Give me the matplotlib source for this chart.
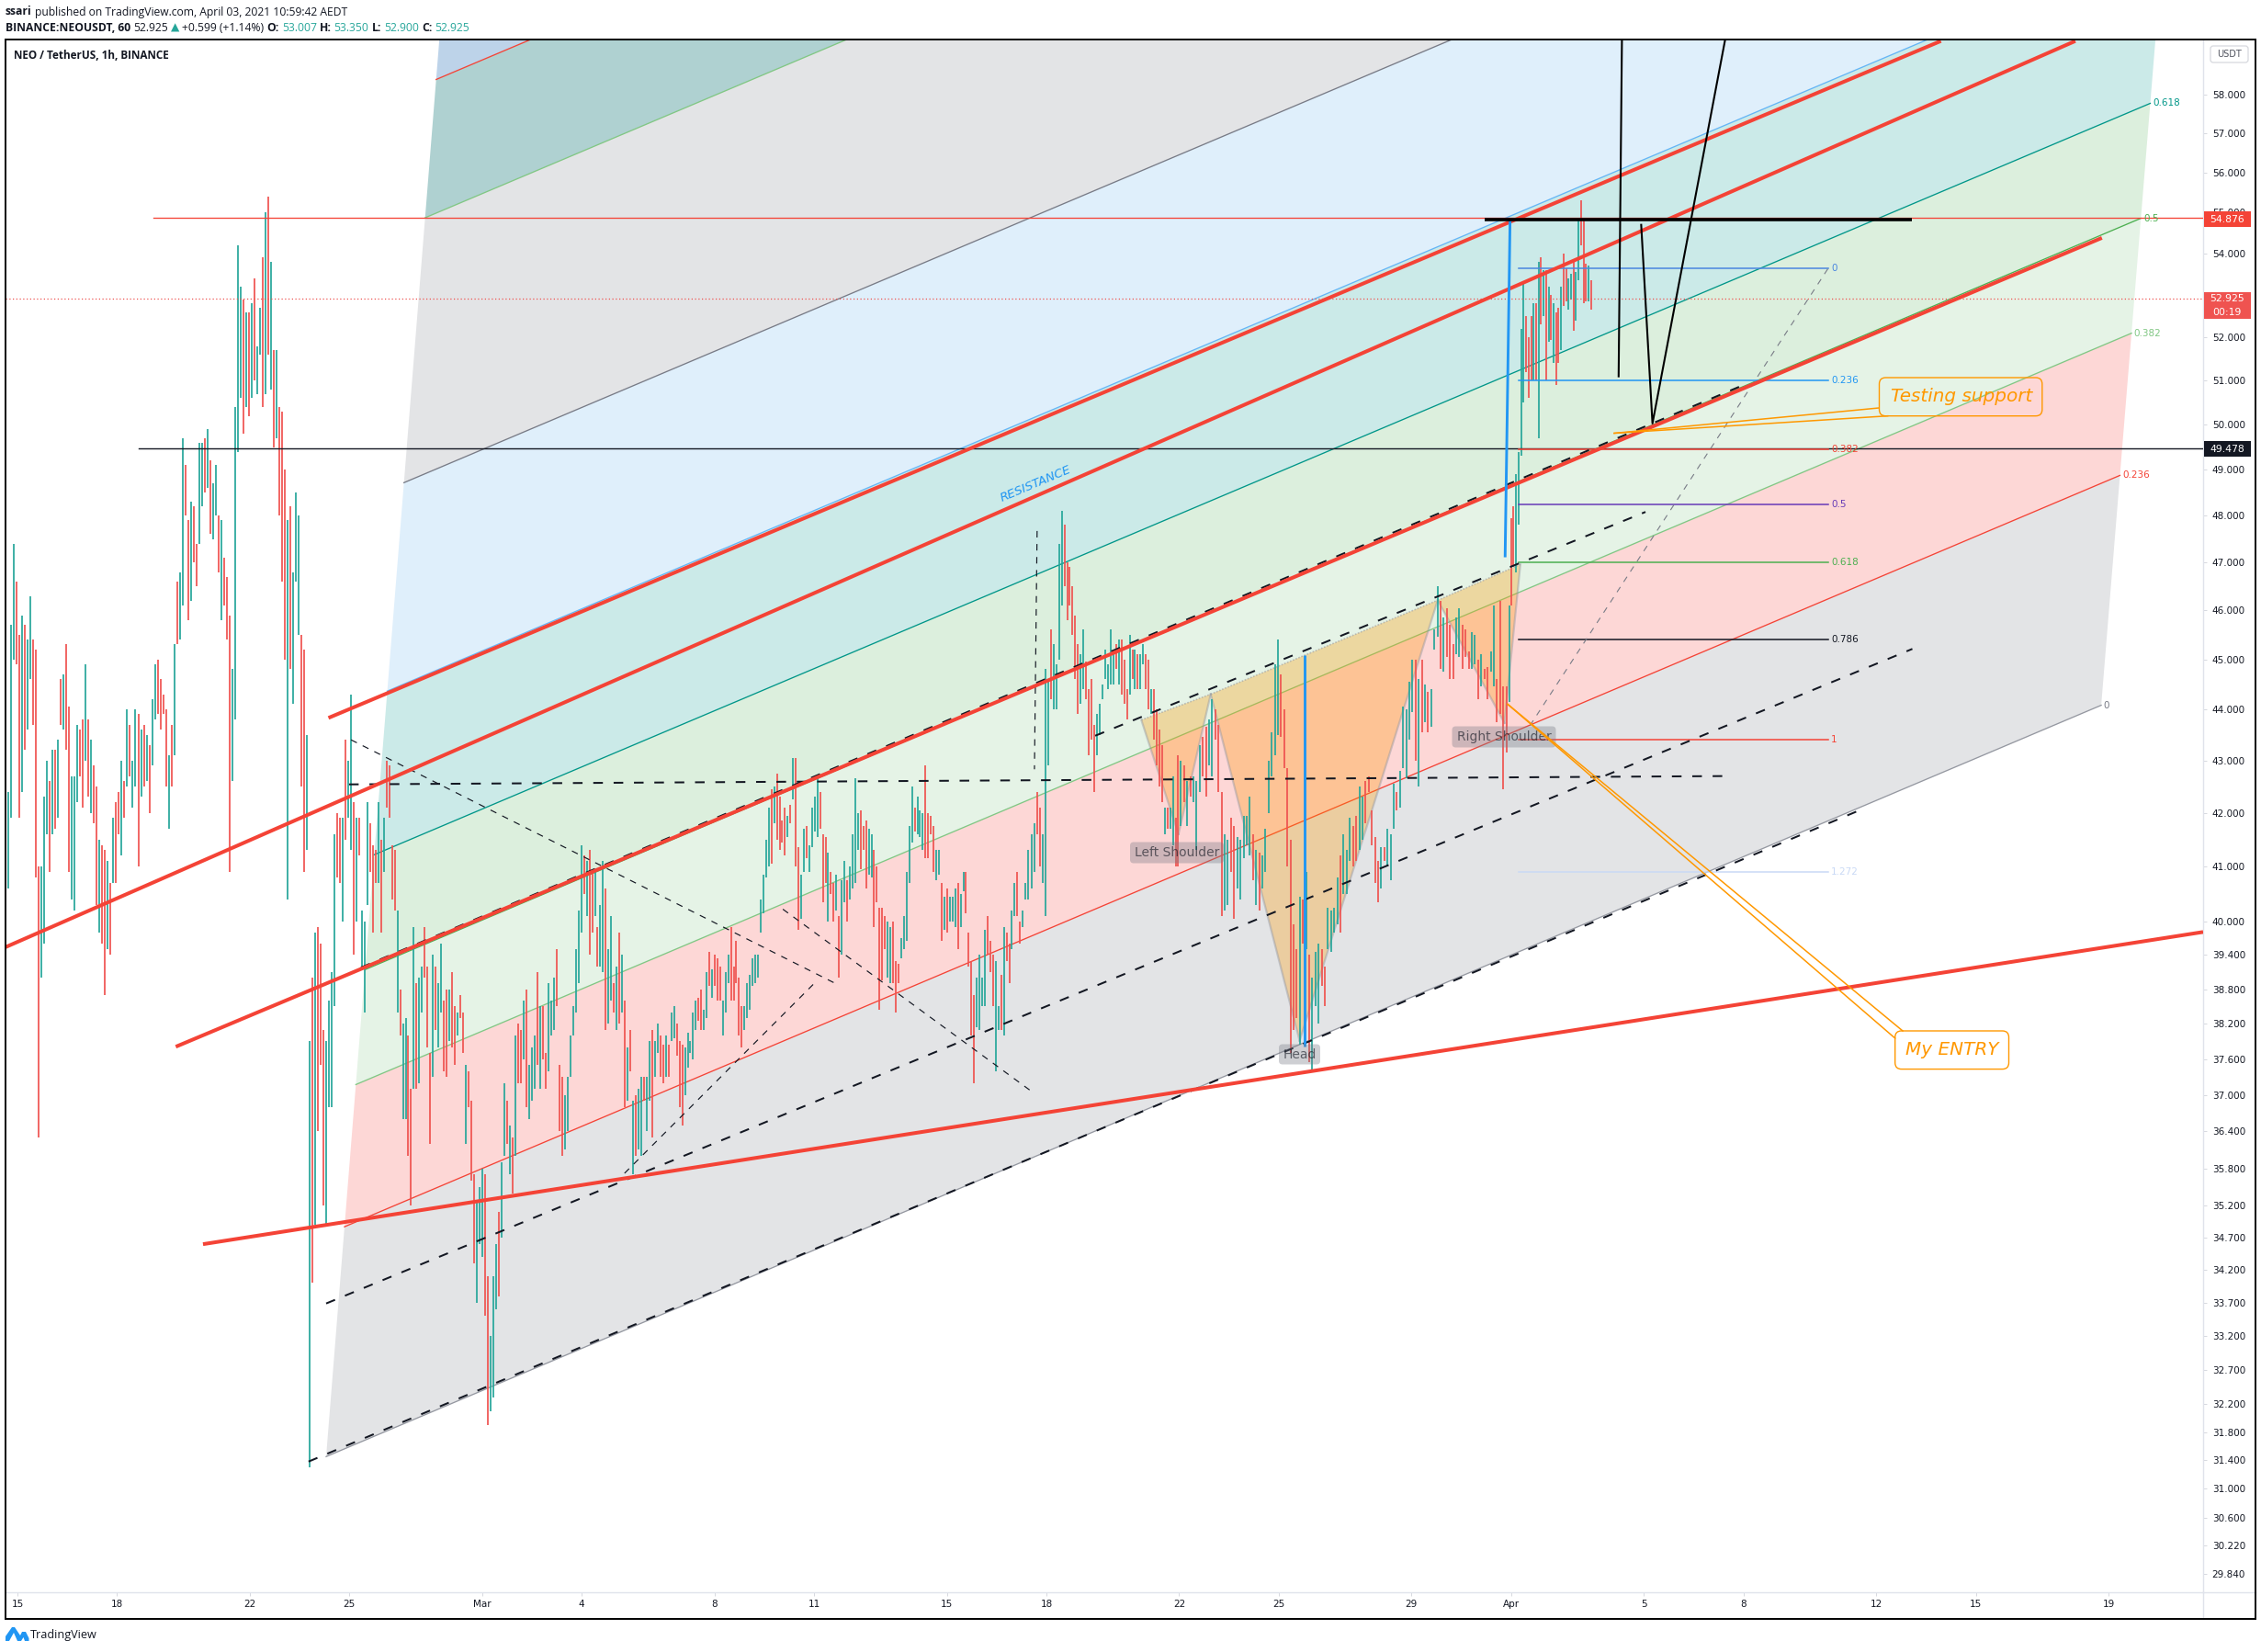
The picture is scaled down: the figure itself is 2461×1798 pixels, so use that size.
import numpy as np
import matplotlib
matplotlib.use("Agg")
import matplotlib.pyplot as plt
from matplotlib.patches import FancyBboxPatch, Polygon, Rectangle
from matplotlib.lines import Line2D
from matplotlib.transforms import Affine2D
from matplotlib.ticker import NullLocator

# ---------- candles: (high, low, 1=up / 0=down); x unit = days after 15 Feb
span1 = (-0.36, 8.64)
bars1 = [(42.2,40.8,0),(42.4,40.6,1),(45.7,41.9,1),(47.4,45.0,1),(46.6,44.9,0),(45.5,41.9,0),(45.9,42.4,1),(45.7,43.2,0),(45.4,43.6,1),(46.3,44.6,1),(45.4,43.7,0),(45.2,40.8,0),(41.0,36.3,0),(41.0,39.0,1),(42.3,39.6,1),(43.0,41.6,1),(42.6,40.9,0),(43.2,41.6,1),(43.2,41.7,0),(43.4,41.9,1),(44.6,43.7,0),(44.7,43.6,1),(45.3,43.2,0),(44.05,40.9,0),(42.7,40.4,1),(42.7,40.2,1),(43.7,42.2,1),(43.6,42.7,0),(43.8,42.1,0),(44.9,43.0,1),(43.8,42.3,0),(43.4,42.0,1),(42.9,41.8,0),(42.5,40.3,0),(41.5,39.8,1),(41.4,39.6,0),(41.3,38.7,0),(41.1,39.5,1),(40.7,39.4,0),(41.9,40.7,1),(42.2,40.7,0),(42.4,41.6,0),(43.0,41.2,1),(42.6,41.9,0),(44.0,42.5,1),(43.7,42.7,0),(43.0,42.1,1),(44.0,42.5,1),(43.9,41.0,0),(43.6,42.3,1),(43.7,42.5,0),(43.5,42.6,1),(43.3,42.0,0),(44.2,42.9,1),(44.9,43.8,1),(45.0,43.9,0),(44.6,43.6,0),(44.3,43.9,0),(44.0,42.5,0),(43.1,41.7,1),(43.7,42.5,0),(45.3,43.1,1),(46.6,45.3,0),(46.8,45.4,1),(49.7,46.1,1),(49.1,48.0,0),(47.9,45.8,0),(48.3,46.2,1),(48.2,47.0,0),(47.4,46.5,0),(49.6,47.4,1),(49.6,48.2,1),(49.7,48.5,0),(49.9,48.6,1),(49.2,47.6,0),(48.7,47.5,1),(49.1,48.0,1),(48.0,46.8,0),(47.9,45.8,1),(47.1,46.1,0),(46.7,45.4,0),(45.9,40.9,0),(44.8,42.6,1),(50.4,43.8,1),(54.2,49.4,1),(53.2,50.6,1),(52.9,49.8,0),(52.6,50.4,1),(52.6,50.2,0),(52.8,50.6,1),(53.4,51.0,0),(51.8,50.7,1),(52.7,51.6,1),(53.9,50.4,0),(55.0,50.7,1),(55.4,51.6,0),(53.8,50.8,1),(51.7,49.5,0),(51.7,49.7,1),(50.4,48.0,0),(50.3,46.6,0),(49.0,45.0,0),(47.9,40.4,1),(48.2,44.8,0),(46.8,44.1,1),(48.5,46.6,1),(48.0,45.5,1),(45.5,42.5,0),(45.2,40.9,0)]

span2 = (8.72, 19.38)
bars2 = [(43.5,41.3,1),(37.9,31.3,1),(39.0,34.0,0),(39.8,34.9,1),(39.9,36.4,0),(39.6,37.5,0),(38.1,35.2,0),(37.9,34.9,1),(38.6,36.8,1),(39.1,36.8,1),(41.6,38.5,1),(42.0,40.8,0),(41.9,40.7,0),(41.9,40.0,1),(43.4,41.5,0),(43.0,41.9,1),(44.3,41.3,1),(42.2,39.4,0),(41.9,40.0,1),(41.9,41.2,0),(40.2,39.2,1),(40.0,38.4,1),(42.2,40.3,1),(41.8,40.9,0),(41.4,39.8,0),(41.3,40.7,0),(42.2,40.7,1),(41.5,39.8,0),(41.9,40.9,1),(43.0,42.1,0),(42.9,41.9,0),(41.4,40.4,0),(41.3,40.2,0),(40.2,38.4,1),(38.8,38.0,0),(38.2,36.6,1),(38.3,36.6,1),(38.0,36.0,0),(37.1,35.2,0),(39.9,37.1,1),(38.9,37.1,0),(39.0,37.2,1),(39.2,38.4,1),(39.9,39.0,0),(39.2,37.8,0),(37.7,36.2,0),(39.4,37.3,1),(39.2,38.1,0),(38.9,37.8,1),(39.6,38.4,1),(38.6,37.4,0),(38.8,37.3,0),(38.8,37.9,1),(39.1,37.8,0),(38.5,37.5,0),(38.4,38.0,1),(38.7,38.3,0),(38.4,37.7,0),(37.5,36.2,1),(37.4,36.8,0),(36.9,35.6,0),(35.7,34.3,0),(35.3,33.7,1),(35.5,34.6,1),(35.8,34.4,1),(35.7,33.5,0),(34.1,31.9,0),(33.2,32.1,1),(34.1,32.3,1),(34.6,33.6,1),(35.1,33.8,0),(35.9,34.7,1),(37.2,36.0,1),(36.9,36.2,0),(36.5,35.7,1),(36.3,35.4,0),(38.0,36.0,1),(38.2,37.2,0),(38.1,37.2,0),(38.6,37.6,1),(38.8,36.8,0),(37.5,36.6,1),(37.8,36.9,1),(38.0,37.1,1),(39.1,37.5,0),(38.5,37.1,1),(38.5,37.6,0),(37.7,37.1,0),(38.9,37.4,1),(38.6,38.0,1),(39.0,38.1,1),(39.5,38.5,0),(37.5,36.4,0),(37.3,36.0,0),(37.0,36.1,1),(37.3,36.4,1),(38.0,37.3,1),(38.5,38.0,1),(39.5,38.4,1),(40.2,38.9,1),(41.4,39.8,1),(41.2,40.5,0),(41.1,40.1,1),(41.3,39.4,0),(40.9,39.8,0),(40.9,40.1,1),(39.9,39.2,0),(40.3,39.2,1),(41.1,39.1,1),(40.6,38.1,0),(39.5,38.2,1),(40.1,38.6,1),(38.9,38.4,0),(39.2,38.1,1),(39.8,38.2,0),(39.4,38.4,1),(38.6,36.8,0),(37.8,36.9,1),(38.1,37.4,0),(36.9,35.7,1),(37.0,36.0,0),(37.1,36.1,1),(37.3,36.0,1),(37.3,36.9,0),(37.3,36.4,1),(37.9,36.9,1),(38.1,36.3,0),(37.9,37.3,1),(38.2,37.7,1),(38.0,37.3,0)]

span3 = (19.46, 30.45)
bars3 = [(37.85,37.2,0),(38.0,37.3,1),(37.85,37.3,0),(38.4,37.9,1),(38.5,37.95,1),(38.2,37.65,0),(37.9,36.8,0),(37.85,36.5,0),(37.8,37.0,1),(38.05,37.45,1),(37.9,37.7,1),(38.4,37.6,1),(38.6,38.1,1),(38.65,38.25,0),(38.8,38.1,0),(38.45,38.1,1),(39.1,38.3,1),(39.45,38.85,0),(39.15,38.65,1),(39.4,38.85,0),(39.35,38.6,0),(39.2,38.6,0),(38.6,38.0,1),(39.1,38.4,1),(39.4,38.9,1),(39.9,38.6,0),(39.2,38.6,0),(39.65,38.9,0),(39.0,38.0,0),(38.5,37.8,0),(38.5,38.1,1),(38.9,38.3,1),(39.05,38.45,1),(39.35,38.85,1),(39.4,38.9,1),(39.4,39.0,1),(40.4,39.8,1),(40.85,40.15,1),(41.5,40.8,1),(42.1,41.0,1),(42.45,41.05,0),(42.5,41.8,1),(42.75,41.5,0),(42.3,41.3,0),(41.85,41.45,0),(42.1,41.2,0),(41.95,41.55,1),(42.15,41.8,0),(43.05,42.25,1),(43.05,41.0,0),(41.35,39.85,0),(40.85,40.05,1),(41.7,40.9,1),(41.75,41.15,0),(41.4,40.9,1),(42.1,41.35,1),(42.3,41.65,1),(42.7,41.55,1),(42.4,41.7,0),(41.6,40.35,0),(41.55,40.7,0),(41.25,40.0,1),(40.9,40.5,0),(40.7,40.0,0),(40.85,40.2,1),(40.1,39.0,0),(40.75,39.4,1),(41.1,40.35,1),(40.75,40.0,0),(41.0,40.4,1),(41.6,40.6,1),(42.65,40.7,1),(42.0,41.3,1),(42.05,40.95,0),(41.75,41.3,0),(41.85,40.6,0),(41.7,40.85,1),(41.6,40.8,1),(41.3,39.9,0),(41.0,40.35,0),(40.25,38.45,0),(40.25,38.95,0),(40.1,39.5,0),(40.0,39.0,1),(39.9,38.9,1),(40.0,38.9,0),(39.3,38.4,0),(39.25,38.9,0),(39.7,39.35,1),(40.1,39.5,1),(40.9,39.65,1),(41.75,40.7,1),(42.5,41.45,1),(42.1,41.65,0),(42.3,41.6,1),(42.05,41.55,1),(42.0,41.3,1),(42.9,41.15,0),(42.0,41.15,0),(41.95,41.6,0),(41.75,40.9,0),(41.3,40.75,1),(41.3,40.85,1),(40.7,39.65,0),(40.45,39.85,1),(40.6,39.8,0),(40.45,40.0,1),(40.45,40.0,1),(40.6,39.9,1),(40.7,39.5,0),(40.5,39.9,1),(40.9,40.55,1),(40.9,40.15,0),(39.8,39.2,0),(39.3,38.0,0),(38.7,37.2,0),(39.0,38.15,1),(39.4,38.1,1),(39.0,38.5,1),(39.85,38.5,1),(40.1,39.4,0),(39.65,39.1,0),(39.4,38.5,0),(39.3,37.4,1),(38.5,38.1,1),(39.05,38.1,0),(39.9,38.0,1),(39.8,39.3,0),(39.6,38.9,0),(40.2,39.5,1),(40.7,40.1,1),(40.9,40.1,0),(40.0,39.6,0),(40.2,39.9,1),(40.7,40.4,1),(41.3,40.4,1)]

span4 = (30.56, 34.90)
bars4 = [(41.6,40.6,1),(41.8,40.9,1),(42.4,41.6,0),(42.1,41.0,0),(41.6,40.7,1),(44.8,40.1,1),(44.6,42.9,1),(45.6,44.2,0),(45.3,44.0,1),(44.9,44.0,1),(47.4,45.0,1),(48.1,46.1,1),(47.8,46.5,0),(47.0,45.8,0),(46.9,46.1,0),(46.5,45.5,0),(45.9,44.6,0),(45.3,43.9,0),(45.1,44.1,1),(45.6,44.4,1),(44.95,44.2,0),(44.4,43.1,0),(44.6,43.4,0),(43.7,42.4,0),(43.9,43.1,1),(44.1,43.5,1),(44.5,44.2,1),(45.2,44.6,1),(44.9,44.4,1),(45.6,44.5,1),(45.1,44.5,1),(45.3,44.8,0),(45.4,44.5,1),(45.4,44.3,0),(45.0,44.1,0),(44.4,43.8,0),(45.5,44.3,1),(45.2,44.6,0),(45.2,44.4,1),(45.1,44.4,0),(45.1,44.4,1),(45.3,44.9,1),(45.1,44.4,0),(45.0,44.0,0),(44.4,43.9,1),(44.4,43.4,0),(44.0,42.9,0),(43.6,42.5,0),(43.3,42.2,0),(42.1,41.6,1),(42.1,41.7,0),(42.1,41.7,1),(42.7,41.4,1),(41.9,41.0,0)]

span5 = (34.96, 44.95)
bars5 = [(43.1,41.0,0),(43.0,41.75,1),(42.9,42.2,0),(42.6,41.75,1),(42.7,42.3,0),(42.7,42.2,1),(42.6,41.3,1),(43.3,42.4,1),(43.45,42.7,0),(43.65,42.3,0),(43.8,42.9,1),(44.2,42.7,1),(44.0,43.4,0),(43.7,42.4,0),(42.4,40.1,0),(41.6,40.2,1),(41.5,40.3,1),(41.9,40.9,0),(41.75,40.05,0),(41.55,40.6,1),(41.5,40.4,1),(41.95,41.15,1),(41.95,41.4,1),(42.3,41.2,1),(41.6,40.75,0),(41.3,40.3,1),(41.25,40.2,0),(41.2,40.6,1),(41.7,40.9,1),(43.0,42.0,1),(43.55,42.7,1),(44.9,43.1,1),(45.4,43.5,1),(44.7,43.45,0),(44.0,42.85,0),(42.85,41.0,0),(41.5,37.7,0),(39.95,38.1,0),(39.5,38.3,0),(40.45,37.85,1),(40.4,39.6,0),(40.9,39.5,1),(39.4,37.55,0),(39.0,37.4,1),(39.45,38.5,1),(39.6,38.2,1),(39.5,38.85,0),(39.2,38.5,0),(40.25,39.5,1),(40.2,39.45,1),(40.25,39.8,1),(40.8,39.95,1),(41.2,39.8,0),(41.6,40.5,1),(41.3,40.5,1),(41.9,41.1,1),(41.75,41.0,0),(41.95,41.1,0),(42.5,41.3,1),(42.3,41.5,1),(42.6,41.8,0),(42.7,42.4,0),(42.05,41.4,0),(41.55,40.7,0),(41.1,40.35,0),(41.35,40.6,1),(41.35,41.1,0),(41.7,41.0,1),(41.6,40.75,1),(42.55,41.7,1),(42.4,42.05,0),(42.8,42.1,1),(44.05,42.85,1),(44.0,42.65,1),(44.55,43.4,1),(45.0,43.95,1),(45.0,43.0,0),(44.6,42.5,1),(45.0,43.55,0),(44.5,43.75,1),(44.35,43.55,0),(44.4,43.65,1),(45.6,45.2,1),(46.5,45.45,1),(46.2,44.8,0),(45.85,44.75,1),(46.05,45.05,0),(45.7,44.6,0),(45.3,44.6,0),(45.85,45.1,1),(46.05,45.05,1),(45.7,44.8,0),(45.6,45.05,0),(45.15,44.8,0),(45.55,44.8,1),(45.5,44.9,1),(45.0,44.2,0),(45.1,44.45,1),(44.8,44.6,0),(44.85,44.2,0),(45.15,44.75,1),(46.1,44.45,1),(44.6,43.75,0),(46.2,43.9,0),(44.45,42.45,0),(44.45,43.15,0),(46.1,44.15,1)]

span6 = (45.0, 47.41)
bars6 = [(47.95,46.1,0),(48.2,46.9,0),(48.9,46.8,1),(49.4,47.8,1),(52.2,49.3,1),(53.3,50.5,1),(52.5,51.2,0),(52.0,50.6,0),(52.5,51.0,0),(52.8,51.0,1),(52.8,51.0,0),(53.8,49.7,1),(53.9,52.3,0),(53.6,52.5,1),(53.6,51.0,0),(53.2,51.9,1),(53.0,51.95,0),(52.8,51.4,1),(52.6,50.9,0),(52.7,51.4,0),(53.2,51.7,1),(54.0,52.75,0),(53.65,52.85,0),(53.4,52.65,1),(53.5,52.9,1),(53.85,52.15,0),(53.55,52.4,1),(54.85,53.35,1),(55.3,54.2,0),(54.85,52.8,0),(53.75,52.85,0),(53.7,52.85,1),(53.35,52.65,0)]

# ---------- axes values
xtick_days = [0,3,7,10,14,17,21,24,28,31,35,38,42,45,49,52,56,59,63]
xtick_labels = ['15','18','22','25','Mar','4','8','11','15','18','22','25','29','Apr','5','8','12','15','19']
price_ticks = [58,57,56,55,54,52,51,50,49,48,47,46,45,44,43,42,41,40,39.4,38.8,38.2,37.6,37,36.4,35.8,35.2,34.7,34.2,33.7,33.2,32.7,32.2,31.8,31.4,31,30.6,30.22,29.84]
last_price = 52.925
high_price = 54.876
mark_price = 49.478
x_end = 65.85

# ---------- fib channel
channel_levels = [0,0.236,0.382,0.5,0.618,0.786,1,1.272,1.414,1.618]
channel_fills = ['#e3e4e6','#fdd7d6','#e5f3e6','#dcefdd','#cbeae8','#dfeffb','#e3e4e6','#afd1d1','#bdd3e9']
channel_lines = ['#9598a1','#f44336','#81c784','#4caf50','#009688','#64b5f6','#787b86','#81c784','#f44336']
channel_left = (9.30, 31.45)
channel_right = (62.78, 44.08)
channel_shift_left = 2.344
channel_shift_right = 2.39
channel_ratio = 1.549

# ---------- fib retracement
retr_levels = ['0','0.236','0.382','0.5','0.618','0.786','1','1.272']
retr_prices = [53.65,51.0,49.45,48.25,47.0,45.4,43.4,40.9]
retr_colors = ['#4a86e0','#2196f3','#f44336','#673ab7','#4caf50','#131722','#f44336','#c9d9f5']
retr_from, retr_to = 45.23, 54.56

# ---------- drawn lines as (day, price) anchors
red_lines = [((9.37,43.83),(57.95,59.41)),((-0.36,39.54),(62.0,59.41)),((4.77,37.81),(62.8,54.38)),((5.59,34.60),(65.85,39.81))]
dash_lines = [((9.99,42.54),(51.64,42.70)),((10.35,39.18),(52.09,50.93)),((32.47,43.48),(49.05,48.08)),((9.30,33.69),(57.09,45.21)),((8.77,31.38),(55.62,42.08))]
thin_dash = [((10.05,43.40),(24.61,38.91)),((18.29,35.72),(24.02,38.91)),((23.06,40.22),(30.50,37.08)),((30.72,47.67),(30.64,42.83))]
grey_dash = ((45.57,43.68),(54.56,53.65))
blue_lines = [((44.97,54.85),(44.82,47.11)),((38.78,45.09),(38.78,37.81))]
black_lines = [[(48.34,59.45),(48.24,51.10)],[(48.92,54.70),(49.26,50.03),(51.45,59.45)]]
black_bar = ((44.2,54.82),(57.07,54.82))
hs_day = [33.86,34.98,35.95,38.63,42.79,44.80,45.28]
hs_price = [43.79,41.60,44.30,37.91,46.21,43.73,46.96]

W, H = 2461, 1798
UP, DOWN = '#26a69a', '#ef5350'
RED = '#f44336'
INK = '#131722'
plt.rcParams['font.family'] = ['DejaVu Sans']
fig = plt.figure(figsize=(W/100, H/100), dpi=100, facecolor='white')
L, T, R, B = 6, 43, 2398, 1733
FR, FB = 2455, 1762
ax = fig.add_axes([L/W, 1-B/H, (R-L)/W, (B-T)/H])
px = Affine2D().scale(1, -1).translate(0, H)

ax.set_yscale('log')
ax.set_xlim(-0.36, x_end)
ax.set_ylim(29.59, 59.45)

# channel
def ch_left(l): return channel_left[0]+l*channel_shift_left, channel_left[1]*channel_ratio**l
def ch_right(l): return channel_right[0]+l*channel_shift_right, channel_right[1]*channel_ratio**l
for i in range(len(channel_levels)-1):
    a, b = channel_levels[i], channel_levels[i+1]
    ax.add_patch(Polygon([ch_left(a), ch_right(a), ch_right(b), ch_left(b)], closed=True,
                         fc=channel_fills[i], ec='none', zorder=1))
    ax.plot(*zip(ch_left(a), ch_right(a)), color=channel_lines[i], lw=0.95, zorder=1.5)
for lab, col in [(0,'#787b86'),(0.236,RED),(0.382,'#81c784'),(0.5,'#4caf50'),(0.618,'#009688')]:
    ax.annotate(str(lab), ch_right(lab), xytext=(2,0), textcoords='offset points', fontsize=7.5,
                color=col, va='center', ha='left', zorder=6)

# head & shoulders
for tri in [(0,1,2),(2,3,4),(4,5,6)]:
    pts = [(hs_day[j], hs_price[j]) for j in tri]
    ax.add_patch(Polygon(pts, closed=True, fc='#ff9800', alpha=0.30, ec='none', zorder=2))
    ax.plot(*zip(pts[0], pts[1]), color='#9598a1', alpha=0.45, lw=1.6, zorder=2.1)
    ax.plot(*zip(pts[1], pts[2]), color='#9598a1', alpha=0.45, lw=1.6, zorder=2.1)
    ax.plot(*zip(pts[0], pts[2]), color='#9598a1', alpha=0.55, lw=1.2, ls=(0,(1,1)), zorder=2.1)

# candles
for span, bars in [(span1,bars1),(span2,bars2),(span3,bars3),(span4,bars4),(span5,bars5),(span6,bars6)]:
    hi, lo, up = map(np.array, zip(*bars))
    days = np.linspace(span[0], span[1], len(bars))
    ax.vlines(days, lo, hi, colors=[UP if u else DOWN for u in up], lw=1.25, zorder=3)

# horizontal marks
ax.plot([4.11, x_end], [high_price]*2, color=RED, lw=0.95, zorder=4)
ax.plot([3.65, x_end], [mark_price]*2, color=INK, lw=1.0, zorder=4)
ax.plot([-0.36, x_end], [last_price]*2, color=DOWN, lw=0.9, ls=(0,(1,2)), zorder=4)

# retracement
for lab, p, c in zip(retr_levels, retr_prices, retr_colors):
    ax.plot([retr_from, retr_to], [p, p], color=c, lw=1.1, zorder=4)
    ax.annotate(lab, (retr_to, p), xytext=(2.2,0), textcoords='offset points', fontsize=7.5, color=c,
                va='center', ha='left', zorder=6)
ax.plot(*zip(*grey_dash), color='#787b86', lw=0.8, ls=(0,(6,6)), zorder=4)

# trend drawings
for a, b in dash_lines:
    ax.plot(*zip(a, b), color=INK, lw=1.45, ls=(0,(5.2,5.8)), zorder=4.5, dash_capstyle='butt')
for a, b in thin_dash:
    ax.plot(*zip(a, b), color=INK, lw=0.85, ls=(0,(6,6)), zorder=4.5)
for a, b in red_lines:
    ax.plot(*zip(a, b), color=RED, lw=2.9, zorder=5, solid_capstyle='butt')
for a, b in blue_lines:
    ax.plot(*zip(a, b), color='#2196f3', lw=2.1, zorder=5, solid_capstyle='butt')
for pts in black_lines:
    ax.plot(*zip(*pts), color='black', lw=1.5, zorder=5)
ax.plot(*zip(*black_bar), color='black', lw=2.6, zorder=5, solid_capstyle='butt')

# pattern labels
def label(cx, cy, w, h, txt):
    ax.add_patch(FancyBboxPatch((cx-w/2, cy-h/2), w, h, boxstyle='round,pad=0,rounding_size=4', transform=px,
                                fc='#787b86', alpha=0.36, ec='none', zorder=7))
    ax.text(cx, cy, txt, transform=px, fontsize=10, color=INK, alpha=0.62, ha='center', va='center', zorder=7.1)
label(1281, 928, 102, 23, 'Left Shoulder')
label(1637, 802, 113, 23, 'Right Shoulder')
label(1414.5, 1147.5, 45, 22, 'Head')

ax.text(1127, 527, 'RESISTANCE', transform=px, fontsize=9.6, color='#2196f3', rotation=23, style='italic',
        ha='center', va='center', rotation_mode='anchor', zorder=7)

# callouts
OR = '#ff9800'
def callout(x0, y0, x1, y1, tip, base1, base2, txt, tx, ty, fs):
    ax.add_patch(FancyBboxPatch((x0, y0), x1-x0, y1-y0, boxstyle='round,pad=0,rounding_size=7', transform=px,
                                fc='none', ec=OR, lw=1.0, zorder=8))
    for b in (base1, base2):
        ax.add_line(Line2D([tip[0], b[0]], [tip[1], b[1]], transform=px, color=OR, lw=1.1, zorder=8))
    ax.text(tx, ty, txt, transform=px, fontsize=fs, color=OR, style='italic', ha='center', va='center', zorder=8)
callout(2045.5, 411, 2222.8, 452.7, (1757, 471.5), (2045, 444), (2054.6, 452.7), 'Testing support', 2135.4, 431.7, 14.4)
callout(2062.7, 1122, 2186.5, 1163.6, (1641, 766.4), (2071, 1122), (2062.7, 1130), 'My ENTRY', 2125, 1142, 14.4)

# axes
ax.yaxis.tick_right()
ax.set_yticks(price_ticks)
ax.set_yticklabels([f'{p:.3f}' for p in price_ticks])
ax.yaxis.set_minor_locator(NullLocator())
ax.set_xticks(xtick_days)
ax.set_xticklabels(xtick_labels)
ax.tick_params(axis='y', which='major', length=3, width=0.7, color='#d6d8de', labelsize=7.5, labelcolor=INK, pad=4)
ax.tick_params(axis='x', which='major', length=3, width=0.7, color='#d6d8de', labelsize=7.5, labelcolor=INK, pad=3)
for s in ('left', 'top'):
    ax.spines[s].set_visible(False)
for s in ('right', 'bottom'):
    ax.spines[s].set_color('#e0e3eb')
    ax.spines[s].set_linewidth(1.0)

# outer decoration
fig.add_artist(Line2D([R, R], [B, FB], transform=px, color='#e0e3eb', lw=1.0))
fig.add_artist(Line2D([R, FR], [B, B], transform=px, color='#e0e3eb', lw=1.0))
fig.add_artist(Rectangle((6, 43), FR-6, FB-43, transform=px, fc='none', ec='black', lw=1.4, zorder=20))

def price_box(y0, y1, color, lines):
    fig.add_artist(Rectangle((2398.5, y0), 51.5, y1-y0, transform=px, fc=color, ec='none', zorder=10))
    for txt, y in lines:
        fig.add_artist(plt.Text(2424, y, txt, transform=px, color='white', fontsize=7.8, ha='center', va='center', zorder=11))
price_box(230, 247, RED, [(f'{high_price:.3f}', 238.5)])
price_box(317.6, 347.5, DOWN, [(f'{last_price:.3f}', 325.5), ('00:19', 340)])
price_box(480, 497, INK, [(f'{mark_price:.3f}', 488.5)])

fig.add_artist(FancyBboxPatch((2406, 50), 41, 18, boxstyle='round,pad=0,rounding_size=3', transform=px,
                              fc='white', ec='#d6d8de', lw=0.9, zorder=10))
fig.add_artist(plt.Text(2426.5, 59.5, 'USDT', transform=px, color='#50535e', fontsize=7, ha='center', va='center', zorder=11))

# header
rend = fig.canvas.get_renderer()
HF = ['Open Sans', 'DejaVu Sans']
def chain(x, y, parts):
    for txt, col, weight in parts:
        t = fig.text(x, y, txt, transform=px, color=col, fontsize=8.7, fontweight=weight, family=HF, ha='left', va='center')
        x = t.get_window_extent(rend).x1 + 3
chain(6, 13, [('ssari', INK, 'bold'), ('published on TradingView.com, April 03, 2021 10:59:42 AEDT', INK, 'normal')])
chain(6, 30, [('BINANCE:NEOUSDT, 60', INK, 'bold'), ('52.925', INK, 'normal'), ('\u25b2', UP, 'normal'),
              ('+0.599 (+1.14%)', INK, 'normal'), ('O:', INK, 'bold'), ('53.007', UP, 'normal'), ('H:', INK, 'bold'),
              ('53.350', UP, 'normal'), ('L:', INK, 'bold'), ('52.900', UP, 'normal'), ('C:', INK, 'bold'), ('52.925', UP, 'normal')])
fig.text(15, 60, 'NEO / TetherUS, 1h, BINANCE', transform=px, color=INK, fontsize=8.5, fontweight='bold', family=HF, ha='left', va='center', zorder=12)

# logo
fig.add_artist(Polygon([(6,1786),(6,1781),(13,1771),(16,1771),(22,1780),(24,1776),(28,1776),(31.5,1783),(31.5,1786),(27,1786),
                        (25.5,1782),(23,1786),(19,1786),(15,1777),(10,1786)], closed=True, transform=px, fc='#2196f3', ec='none'))
fig.text(33, 1779, 'TradingView', transform=px, color=INK, fontsize=9.1, family=HF, ha='left', va='center')

fig.savefig('out.png', dpi=100, facecolor='white')
